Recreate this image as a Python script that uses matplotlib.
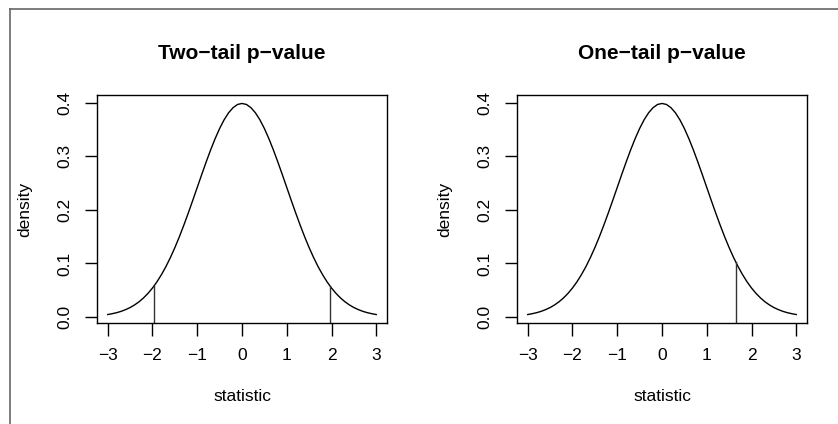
import matplotlib
matplotlib.use("Agg")
import matplotlib.pyplot as plt
from matplotlib.lines import Line2D

plt.rcParams["font.family"] = ["Liberation Sans", "DejaVu Sans"]

# density curve
stat_x = [-3.0, -2.9, -2.8, -2.7, -2.6, -2.5, -2.4, -2.3, -2.2, -2.1,
          -2.0, -1.9, -1.8, -1.7, -1.6, -1.5, -1.4, -1.3, -1.2, -1.1,
          -1.0, -0.9, -0.8, -0.7, -0.6, -0.5, -0.4, -0.3, -0.2, -0.1,
          0.0, 0.1, 0.2, 0.3, 0.4, 0.5, 0.6, 0.7, 0.8, 0.9,
          1.0, 1.1, 1.2, 1.3, 1.4, 1.5, 1.6, 1.7, 1.8, 1.9,
          2.0, 2.1, 2.2, 2.3, 2.4, 2.5, 2.6, 2.7, 2.8, 2.9, 3.0]
density_y = [0.0044, 0.0060, 0.0079, 0.0104, 0.0136, 0.0175, 0.0224, 0.0283, 0.0355, 0.0440,
             0.0540, 0.0656, 0.0790, 0.0940, 0.1109, 0.1295, 0.1497, 0.1714, 0.1942, 0.2179,
             0.2420, 0.2661, 0.2897, 0.3123, 0.3332, 0.3521, 0.3683, 0.3814, 0.3910, 0.3970,
             0.3989, 0.3970, 0.3910, 0.3814, 0.3683, 0.3521, 0.3332, 0.3123, 0.2897, 0.2661,
             0.2420, 0.2179, 0.1942, 0.1714, 0.1497, 0.1295, 0.1109, 0.0940, 0.0790, 0.0656,
             0.0540, 0.0440, 0.0355, 0.0283, 0.0224, 0.0175, 0.0136, 0.0104, 0.0079, 0.0060, 0.0044]

titles = ["Two\u2212tail p\u2212value", "One\u2212tail p\u2212value"]
cut_x = [[-1.96, 1.96], [1.645]]
cut_y = [[0.0584, 0.0584], [0.1031]]

x_ticks = [-3, -2, -1, 0, 1, 2, 3]
y_ticks = [0.0, 0.1, 0.2, 0.3, 0.4]

W, H = 838, 424
fig = plt.figure(figsize=(W / 100, H / 100), dpi=100)

# outer frame (top and left edges visible)
fig.add_artist(Line2D([10 / W, 1.0], [1 - 9 / H, 1 - 9 / H], color="#666666", lw=1.2))
fig.add_artist(Line2D([10 / W, 10 / W], [0.0, 1 - 9 / H], color="#666666", lw=1.2))

lefts = [97, 517]
ylo, yhi = -0.0114, 0.4147
for i, left in enumerate(lefts):
    ax = fig.add_axes([left / W, (H - 323) / H, 290 / W, 228 / H])
    ax.plot(stat_x, density_y, color="black", lw=1.0)
    for cx, cy in zip(cut_x[i], cut_y[i]):
        ax.plot([cx, cx], [ylo, cy], color="#333333", lw=1.0)
    ax.set_xlim(-3.24, 3.24)
    ax.set_ylim(ylo, yhi)
    ax.set_xticks(x_ticks)
    ax.set_xticklabels([str(t).replace("-", "\u2212") for t in x_ticks])
    ax.set_yticks(y_ticks)
    ax.set_yticklabels([f"{t:.1f}" for t in y_ticks], rotation=90, va="center")
    ax.tick_params(direction="out", length=9, width=1.0, labelsize=12.5, pad=9)
    for s in ax.spines.values():
        s.set_linewidth(1.0)
    ax.set_title(titles[i], fontsize=15, fontweight="bold", pad=26)
    ax.set_xlabel("statistic", fontsize=12.5, labelpad=19)
    ax.set_ylabel("density", fontsize=12.5, labelpad=18)

fig.savefig("out.png", dpi=100)
